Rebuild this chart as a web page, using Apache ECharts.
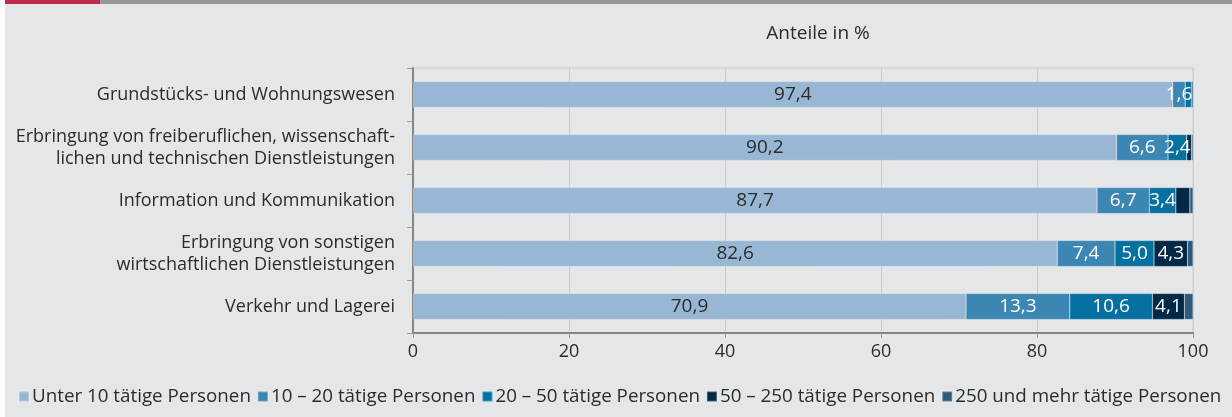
<!DOCTYPE html>
<html>
<head>
<meta charset="utf-8">
<script src="https://cdn.jsdelivr.net/npm/echarts@6/dist/echarts.min.js"></script>
<style>
html,body{margin:0;padding:0;background:#ffffff;}
#chart{width:1232px;height:417px;}
</style>
</head>
<body>
<div id="chart"></div>
<script>
const categories = [
  "Grundstücks- und Wohnungswesen",
  "Erbringung von freiberuflichen, wissenschaft-\nlichen und technischen Dienstleistungen",
  "Information und Kommunikation",
  "Erbringung von sonstigen\nwirtschaftlichen Dienstleistungen",
  "Verkehr und Lagerei"
];
const seriesNames = [
  "Unter 10 tätige Personen",
  "10 – 20 tätige Personen",
  "20 – 50 tätige Personen",
  "50 – 250 tätige Personen",
  "250 und mehr tätige Personen"
];
const under10 = [97.4, 90.2, 87.7, 82.6, 70.9];
const from10to20 = [1.6, 6.6, 6.7, 7.4, 13.3];
const from20to50 = [0.8, 2.4, 3.4, 5.0, 10.6];
const from50to250 = [0.2, 0.6, 1.8, 4.3, 4.1];
const over250 = [0.0, 0.2, 0.4, 0.7, 1.1];
const xTicks = [0, 20, 40, 60, 80, 100];

const colors = ["#97b7d4", "#3b86b2", "#0571a0", "#022a46", "#2e5b7b"];
const labelColors = ["#2b2b2b", "#ffffff", "#ffffff", "#ffffff", "#ffffff"];
const minLabelValue = [1.5, 1.5, 1.5, 3, 3];
const dataSets = [under10, from10to20, from20to50, from50to250, over250];
const FONT = "'Open Sans', 'Noto Sans', sans-serif";

const chart = echarts.init(document.getElementById('chart'), null, {renderer: 'canvas'});

const series = dataSets.map((d, i) => ({
  name: seriesNames[i],
  type: 'bar',
  stack: 'total',
  barWidth: '49%',
  data: d,
  itemStyle: {color: colors[i], borderColor: 'rgba(255,255,255,0.25)', borderWidth: 0.6},
  label: {
    show: true,
    position: 'inside',
    color: labelColors[i],
    fontFamily: FONT,
    fontSize: 19,
    formatter: p => p.value >= minLabelValue[i] ? p.value.toFixed(1).replace('.', ',') : ''
  },
  emphasis: {disabled: true}
}));

chart.setOption({
  animation: false,
  backgroundColor: 'transparent',
  textStyle: {fontFamily: FONT},
  graphic: [
    {type: 'rect', z: -10, shape: {x: 5, y: 4, width: 1227, height: 413}, style: {fill: '#e5e6e8'}},
    {type: 'rect', z: -10, shape: {x: 5, y: 0, width: 95, height: 4}, style: {fill: '#be2b4d'}},
    {type: 'rect', z: -10, shape: {x: 100, y: 0, width: 1132, height: 4}, style: {fill: '#96979b'}}
  ],
  title: {
    text: 'Anteile in %',
    left: 813, top: 19, textAlign: 'center',
    textStyle: {fontFamily: FONT, fontSize: 19, fontWeight: 'normal', color: '#2b2b2b'}
  },
  legend: {
    data: seriesNames,
    left: 13, right: 0, top: 382, padding: 5,
    icon: 'rect', itemWidth: 10, itemHeight: 10, itemGap: 6,
    textStyle: {fontFamily: FONT, fontSize: 18.8, color: '#2b2b2b', padding: [0, 0, 0, -2]},
    selectedMode: false
  },
  grid: {
    left: 413, right: 39, top: 68, bottom: 84,
    show: true, borderColor: '#cbccce', borderWidth: 1
  },
  xAxis: {
    type: 'value', min: 0, max: 100, interval: 20,
    axisLine: {show: true, lineStyle: {color: '#858585', width: 2}},
    axisTick: {show: true, length: 5, lineStyle: {color: '#9a9a9a'}},
    axisLabel: {
      fontFamily: FONT, fontSize: 18, color: '#2b2b2b', margin: 10,
      formatter: v => xTicks.includes(v) ? String(v) : ''
    },
    splitLine: {show: true, lineStyle: {color: '#cbccce', width: 1}}
  },
  yAxis: {
    type: 'category', data: categories, inverse: true,
    axisLine: {show: true, lineStyle: {color: '#858585', width: 2}},
    axisTick: {show: true, length: 6, lineStyle: {color: '#9a9a9a'}},
    axisLabel: {fontFamily: FONT, fontSize: 18, color: '#2b2b2b', margin: 18, lineHeight: 22, align: 'right'},
    splitLine: {show: false}
  },
  series: series
});
</script>
</body>
</html>
